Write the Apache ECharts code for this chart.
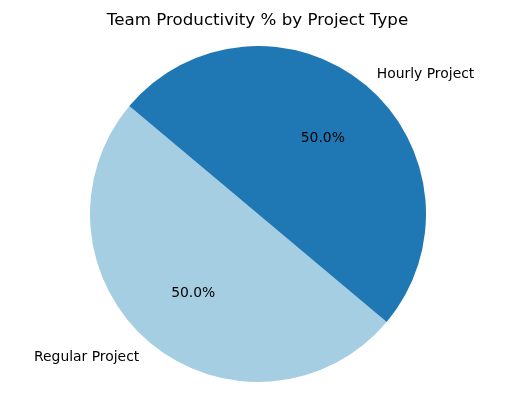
<!DOCTYPE html>
<html>
<head>
<meta charset="utf-8">
<script src="https://cdn.jsdelivr.net/npm/echarts@6/dist/echarts.min.js"></script>
<style>
html,body{margin:0;padding:0;background:#fff;}
#chart{width:515px;height:409px;}
</style>
</head>
<body>
<div id="chart"></div>
<script>
const categories = ['Regular Project', 'Hourly Project'];
const values = [50, 50];
const colors = ['#a6cee3', '#1f78b4'];
const titleText = 'Team Productivity % by Project Type';

const FONT = 'DejaVu Sans';
const cx = 258, cy = 214, R = 168;
const total = values.reduce((a, b) => a + b, 0);

const chart = echarts.init(document.getElementById('chart'), null, {renderer: 'canvas'});
const data = categories.map((c, i) => ({name: c, value: values[i], itemStyle: {color: colors[i]}}));

chart.setOption({
  animation: false,
  backgroundColor: '#ffffff',
  title: {
    text: titleText,
    left: 'center',
    top: 7,
    textStyle: {fontFamily: FONT, fontSize: 16.7, fontWeight: 'normal', color: '#000'}
  },
  series: [
    {
      type: 'pie',
      center: [cx, cy],
      radius: [0, R],
      startAngle: 140,
      clockwise: false,
      avoidLabelOverlap: false,
      silent: true,
      data: data,
      label: {
        show: true,
        position: 'outside',
        formatter: '{b}',
        fontFamily: FONT,
        fontSize: 13.9,
        color: '#000',
        distanceToLabelLine: 0
      },
      labelLayout: {dy: 2},
      labelLine: {show: false, length: R * 0.1, length2: 0},
      itemStyle: {borderWidth: 0}
    },
    {
      type: 'pie',
      center: [cx, cy],
      radius: [R * 0.2 - 6, R],
      startAngle: 140,
      clockwise: false,
      avoidLabelOverlap: false,
      silent: true,
      data: data.map(d => ({name: d.name, value: d.value, itemStyle: {color: 'rgba(0,0,0,0)'}})),
      label: {
        show: true,
        position: 'inside',
        formatter: p => (p.value / total * 100).toFixed(1) + '%',
        fontFamily: FONT,
        fontSize: 13.9,
        color: '#000'
      },
      labelLayout: {dy: 2},
      labelLine: {show: false},
      itemStyle: {borderWidth: 0}
    }
  ]
});
</script>
</body>
</html>
